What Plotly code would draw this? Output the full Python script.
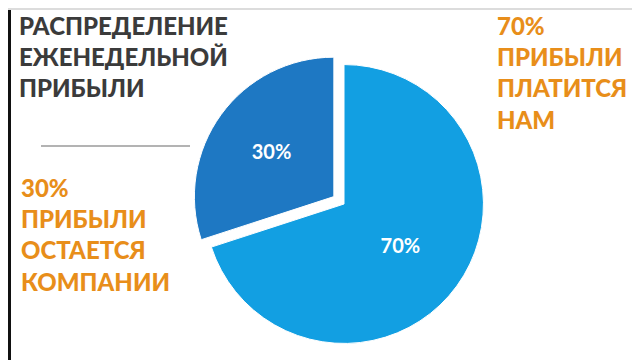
import plotly.graph_objects as go

labels = ["Платится нам", "Остается компании"]
values = [70, 30]
colors = ["#129fe2", "#1e78c3"]
pulls = [0, 0.09]

title_lines = ["РАСПРЕДЕЛЕНИЕ", "ЕЖЕНЕДЕЛЬНОЙ", "ПРИБЫЛИ"]
right_lines = ["70%", "ПРИБЫЛИ", "ПЛАТИТСЯ", "НАМ"]
left_lines = ["30%", "ПРИБЫЛИ", "ОСТАЕТСЯ", "КОМПАНИИ"]

W, H = 640, 360

fig = go.Figure(go.Pie(
    labels=labels, values=values, sort=False, direction="clockwise", rotation=0,
    pull=pulls, marker=dict(colors=colors, line=dict(color="white", width=1)),
    textinfo="percent", textposition="inside", insidetextorientation="horizontal",
    textfont=dict(family="Lato", size=20, color="white", weight="bold"),
    domain=dict(x=[184 / W, 488 / W], y=[12 / H, 316 / H]),
    showlegend=False, hoverinfo="label+percent",
))

def ann(lines, x, y, color):
    return dict(text="<br>".join(lines), x=x / W, y=1 - y / H, xref="paper", yref="paper",
                xanchor="left", yanchor="top", align="left", showarrow=False,
                font=dict(family="Lato", size=24, color=color, weight=900))

fig.update_layout(
    width=W, height=H, margin=dict(l=0, r=0, t=0, b=0),
    paper_bgcolor="white", plot_bgcolor="white",
    annotations=[
        ann(title_lines, 9, 1, "#3b3b3b"),
        ann(right_lines, 487, 1, "#e88e1a"),
        ann(left_lines, 11, 163, "#e88e1a"),
    ],
    shapes=[
        dict(type="line", xref="paper", yref="paper", x0=33 / W, x1=182 / W,
             y0=1 - 138 / H, y1=1 - 138 / H, line=dict(color="#9a9a9a", width=1.5)),
        dict(type="rect", xref="paper", yref="paper", x0=0, x1=3 / W, y0=0, y1=1,
             fillcolor="#111", line=dict(width=0)),
        dict(type="rect", xref="paper", yref="paper", x0=635 / W, x1=1, y0=0, y1=1,
             fillcolor="#111", line=dict(width=0)),
        dict(type="rect", xref="paper", yref="paper", x0=0, x1=1, y0=1 - 2 / H, y1=1,
             fillcolor="#dcdcdc", line=dict(width=0)),
        dict(type="rect", xref="paper", yref="paper", x0=0, x1=1, y0=0, y1=3 / H,
             fillcolor="#d0d0d0", line=dict(width=0)),
    ],
)

fig.write_html("out.html")
